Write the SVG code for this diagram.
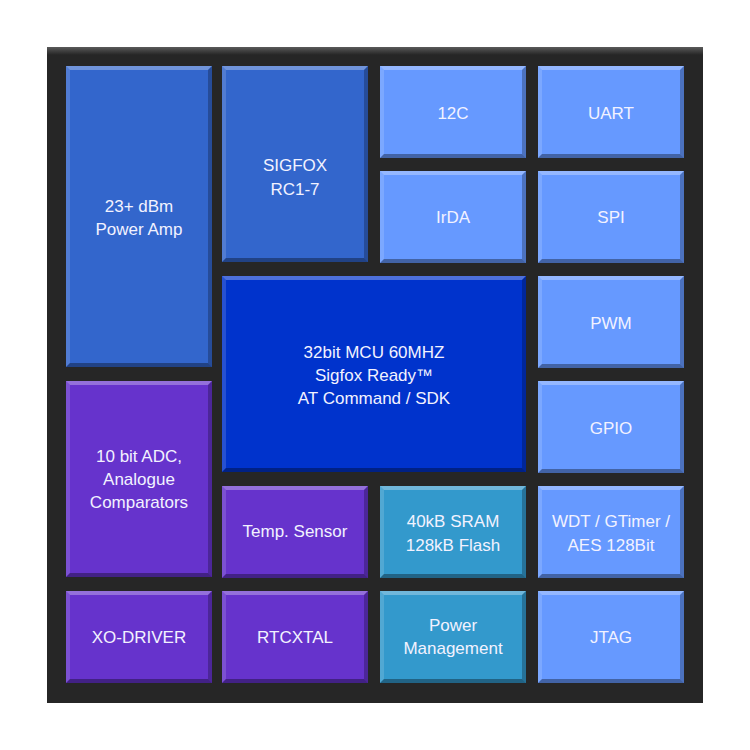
<svg xmlns="http://www.w3.org/2000/svg" xmlns:xlink="http://www.w3.org/1999/xlink" width="750" height="750" viewBox="0 0 750 750">
<style>
.t{font-family:"Liberation Sans","DejaVu Sans",sans-serif;font-size:17px;fill:#f2f2ff;text-anchor:middle}
.blue{fill:#3366cc}.light{fill:#6699ff}.dark{fill:#0033cc}.purple{fill:#6633cc}.teal{fill:#3399cc}
.hl{fill:#ffffff;fill-opacity:.3}.hl2{fill:#ffffff;fill-opacity:.15}.sh{fill:#000000;fill-opacity:.25}.sh2{fill:#000000;fill-opacity:.35}
</style>
<defs>
<linearGradient id="frame" x1="0" y1="0" x2="0" y2="1">
<stop offset="0" stop-color="#5a5a5a"/><stop offset="0.012" stop-color="#262626"/><stop offset="1" stop-color="#262626"/>
</linearGradient>
<g id="bev-s"><polygon class="hl" points="0,0 146,0 142,4 4,4"/><polygon class="hl2" points="0,0 4,4 4,88 0,92"/><polygon class="sh" points="146,0 146,92 142,88 142,4"/><polygon class="sh2" points="0,92 146,92 142,88 4,88"/></g>
<g id="bev-t"><polygon class="hl" points="0,0 146,0 142,4 4,4"/><polygon class="hl2" points="0,0 4,4 4,192 0,196"/><polygon class="sh" points="146,0 146,196 142,192 142,4"/><polygon class="sh2" points="0,196 146,196 142,192 4,192"/></g>
<g id="bev-pa"><polygon class="hl" points="0,0 146,0 142,4 4,4"/><polygon class="hl2" points="0,0 4,4 4,297 0,301"/><polygon class="sh" points="146,0 146,301 142,297 142,4"/><polygon class="sh2" points="0,301 146,301 142,297 4,297"/></g>
<g id="bev-mcu"><polygon class="hl" points="0,0 304,0 300,4 4,4"/><polygon class="hl2" points="0,0 4,4 4,192 0,196"/><polygon class="sh" points="304,0 304,196 300,192 300,4"/><polygon class="sh2" points="0,196 304,196 300,192 4,192"/></g>
</defs>
<rect width="750" height="750" fill="#ffffff"/>
<rect id="chip" x="47" y="47" width="656" height="656" fill="url(#frame)"/>
<g id="power-amp" transform="translate(66,66)"><rect class="blue" width="146" height="301"/><use xlink:href="#bev-pa"/><text class="t" x="73" y="146">23+ dBm</text><text class="t" x="73" y="169">Power Amp</text></g>
<g id="sigfox" transform="translate(222,66)"><rect class="blue" width="146" height="196"/><use xlink:href="#bev-t"/><text class="t" x="73" y="105">SIGFOX</text><text class="t" x="73" y="129">RC1-7</text></g>
<g id="i2c" transform="translate(380,66)"><rect class="light" width="146" height="92"/><use xlink:href="#bev-s"/><text class="t" x="73" y="53">12C</text></g>
<g id="uart" transform="translate(538,66)"><rect class="light" width="146" height="92"/><use xlink:href="#bev-s"/><text class="t" x="73" y="53">UART</text></g>
<g id="irda" transform="translate(380,171)"><rect class="light" width="146" height="92"/><use xlink:href="#bev-s"/><text class="t" x="73" y="52">IrDA</text></g>
<g id="spi" transform="translate(538,171)"><rect class="light" width="146" height="92"/><use xlink:href="#bev-s"/><text class="t" x="73" y="52">SPI</text></g>
<g id="pwm" transform="translate(538,276)"><rect class="light" width="146" height="92"/><use xlink:href="#bev-s"/><text class="t" x="73" y="53">PWM</text></g>
<g id="mcu" transform="translate(222,276)"><rect class="dark" width="304" height="196"/><use xlink:href="#bev-mcu"/><text class="t" x="152" y="82">32bit MCU 60MHZ</text><text class="t" x="152" y="105">Sigfox Ready™</text><text class="t" x="152" y="128">AT Command / SDK</text></g>
<g id="gpio" transform="translate(538,381)"><rect class="light" width="146" height="92"/><use xlink:href="#bev-s"/><text class="t" x="73" y="53">GPIO</text></g>
<g id="adc" transform="translate(66,381)"><rect class="purple" width="146" height="196"/><use xlink:href="#bev-t"/><text class="t" x="73" y="81">10 bit ADC,</text><text class="t" x="73" y="104">Analogue</text><text class="t" x="73" y="127">Comparators</text></g>
<g id="temp" transform="translate(222,486)"><rect class="purple" width="146" height="92"/><use xlink:href="#bev-s"/><text class="t" x="73" y="51">Temp. Sensor</text></g>
<g id="sram" transform="translate(380,486)"><rect class="teal" width="146" height="92"/><use xlink:href="#bev-s"/><text class="t" x="73" y="41">40kB SRAM</text><text class="t" x="73" y="65">128kB Flash</text></g>
<g id="wdt" transform="translate(538,486)"><rect class="light" width="146" height="92"/><use xlink:href="#bev-s"/><text class="t" x="73" y="41">WDT / GTimer /</text><text class="t" x="73" y="65">AES 128Bit</text></g>
<g id="xo" transform="translate(66,591)"><rect class="purple" width="146" height="92"/><use xlink:href="#bev-s"/><text class="t" x="73" y="52">XO-DRIVER</text></g>
<g id="rtc" transform="translate(222,591)"><rect class="purple" width="146" height="92"/><use xlink:href="#bev-s"/><text class="t" x="73" y="52">RTCXTAL</text></g>
<g id="pm" transform="translate(380,591)"><rect class="teal" width="146" height="92"/><use xlink:href="#bev-s"/><text class="t" x="73" y="40">Power</text><text class="t" x="73" y="63">Management</text></g>
<g id="jtag" transform="translate(538,591)"><rect class="light" width="146" height="92"/><use xlink:href="#bev-s"/><text class="t" x="73" y="52">JTAG</text></g>
<g id="connectors"/>
</svg>
